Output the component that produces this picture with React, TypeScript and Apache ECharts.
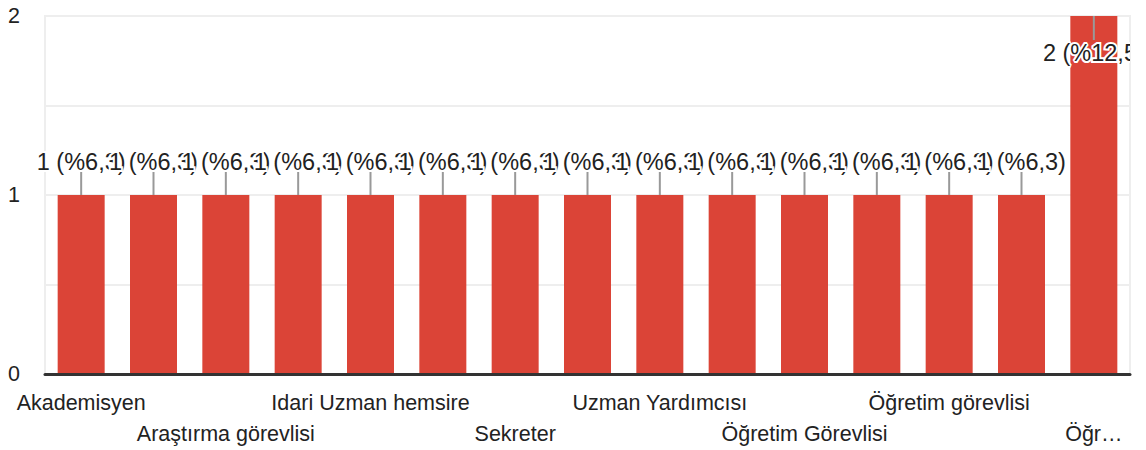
import React, { useEffect, useRef } from "react";
import * as echarts from "echarts";

const categories = [
  "Akademisyen",
  "Araştırma Görevlisi",
  "Araştırma görevlisi",
  "Hemşire",
  "Idari Uzman hemsire",
  "Memur",
  "Sekreter",
  "Uzman",
  "Uzman Yardımcısı",
  "Öğretim Elemanı",
  "Öğretim Görevlisi",
  "Öğretim Görevlisi Dr.",
  "Öğretim görevlisi",
  "Öğretim Üyesi",
  "Öğr…",
];
const counts = [1, 1, 1, 1, 1, 1, 1, 1, 1, 1, 1, 1, 1, 1, 2];
const yTicks = [0, 1, 2];

const FONT = '"Liberation Sans", Arial, sans-serif';
const BAR_COLOR = "#db4437";

export default function App() {
  const ref = useRef<HTMLDivElement>(null);
  useEffect(() => {
    document.body.style.margin = "0";
    if (!ref.current) return;
    const chart = echarts.init(ref.current, null, { renderer: "svg" });
    const total = counts.reduce((a, b) => a + b, 0);
    const labels = counts.map(
      (c) => `${c} (%${((c / total) * 100).toFixed(1).replace(".", ",")})`
    );
    const yMax = yTicks[yTicks.length - 1];
    const labelBase = {
      color: "#222",
      fontFamily: FONT,
      fontSize: 21.5,
      hideOverlap: false,
      showMinLabel: true,
      showMaxLabel: true,
    };
    chart.setOption({
      animation: false,
      grid: {
        left: 45,
        right: 16,
        top: 16,
        bottom: 76,
        show: true,
        borderColor: "#eeeeee",
        borderWidth: 2,
      },
      xAxis: [
        {
          type: "category",
          data: categories,
          axisLine: { show: true, lineStyle: { color: "#333", width: 3 } },
          axisTick: { show: false },
          axisLabel: {
            ...labelBase,
            interval: (i: number) => i % 4 === 0,
            margin: 18,
          },
          z: 5,
        },
        {
          type: "category",
          data: categories,
          position: "bottom",
          axisLine: { show: false },
          axisTick: { show: false },
          splitLine: { show: false },
          axisLabel: {
            ...labelBase,
            interval: (i: number) => i % 4 === 2,
            margin: 49,
          },
        },
      ],
      yAxis: {
        type: "value",
        min: yTicks[0],
        max: yMax,
        interval: 0.5,
        axisLine: { show: false },
        axisTick: { show: false },
        splitLine: { lineStyle: { color: "#eeeeee", width: 2 } },
        axisLabel: {
          align: "left",
          margin: 37,
          color: "#222",
          fontFamily: FONT,
          fontSize: 21.5,
          formatter: (v: number) => (yTicks.includes(v) ? String(v) : ""),
        },
      },
      series: [
        {
          type: "bar",
          data: counts,
          barWidth: 47,
          itemStyle: { color: BAR_COLOR },
        },
        {
          type: "custom",
          data: counts.map((c, i) => [i, c]),
          clip: false,
          z: 3,
          renderItem: (params: any, api: any) => {
            const idx = params.dataIndex;
            const v = api.value(1);
            const pt = api.coord([api.value(0), v]);
            const cs = params.coordSys;
            const atTop = v >= yMax;
            const lineEnd = atTop ? pt[1] + 24 : pt[1] - 23;
            const textY = atTop ? pt[1] + 37 : pt[1] - 33;
            return {
              type: "group",
              clipPath: {
                type: "rect",
                shape: { x: 0, y: 0, width: cs.x + cs.width, height: cs.y + cs.height },
              },
              children: [
                {
                  type: "line",
                  shape: { x1: pt[0], y1: pt[1], x2: pt[0], y2: lineEnd },
                  style: { stroke: "#999", lineWidth: 2 },
                },
                {
                  type: "text",
                  x: pt[0],
                  y: textY,
                  style: {
                    text: labels[idx],
                    fill: "#222",
                    stroke: "#fff",
                    lineWidth: 4,
                    font: `23.5px ${FONT}`,
                    align: "center",
                    verticalAlign: "middle",
                  },
                },
              ],
            };
          },
        },
      ],
    });
    return () => chart.dispose();
  }, []);
  return <div ref={ref} style={{ width: 1146, height: 450 }} />;
}
